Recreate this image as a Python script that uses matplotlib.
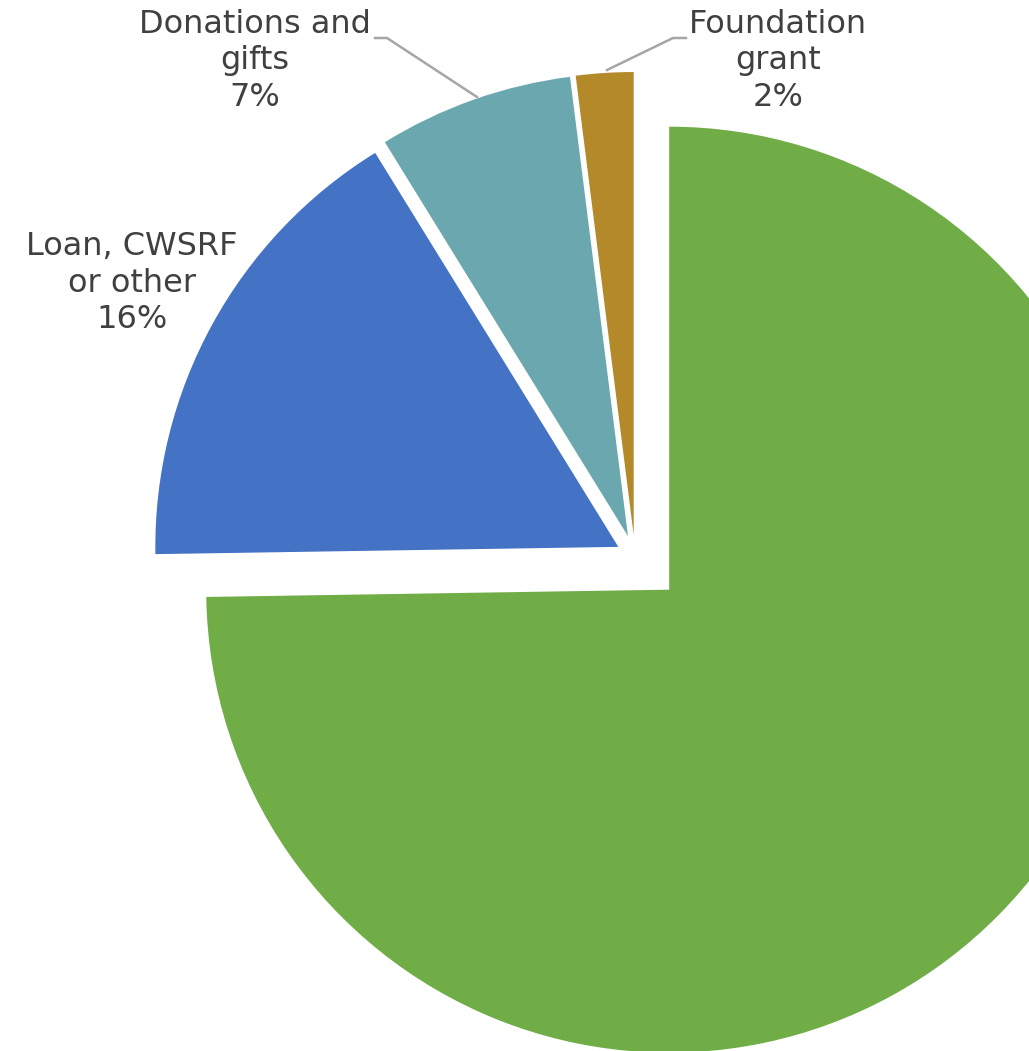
import matplotlib.pyplot as plt

# 데이터
categories = ['Grant', 'Loan, CWSRF\nor other', 'Donations and\ngifts', 'Foundation\ngrant']
shares = [74.75, 16.45, 6.8, 2.0]
colors = ['#70AD47', '#4472C4', '#6AA7AE', '#B3892A']

W, H = 1029, 1051
R = 463.0            # 파이 반지름(px)
CX, CY = 635.0, 556.0  # 파이 중심(px)
explode = [48 / R, 19 / R, 21 / R, 21 / R]


def px(x, y):
    # 픽셀 좌표 -> 데이터 좌표
    return (x - CX) / R, (CY - y) / R


fig = plt.figure(figsize=(W / 100, H / 100), dpi=100)
ax = fig.add_axes([0, 0, 1, 1])
ax.pie(shares, colors=colors, explode=explode, startangle=90,
       counterclock=False, radius=1.0, wedgeprops=dict(linewidth=0))
ax.set_aspect('equal')
ax.set_xlim(-CX / R, (W - CX) / R)
ax.set_ylim(-(H - CY) / R, CY / R)
ax.axis('off')

# 라벨 위치 (녹색 조각 라벨은 잘려서 안 보임)
label_pos = {1: (132, 283), 2: (255, 61), 3: (778, 61)}
for i, (x, y) in label_pos.items():
    txt = '%s\n%d%%' % (categories[i], round(shares[i]))
    ax.text(*px(x, y), txt, ha='center', va='center', fontsize=23,
            color='#404040', linespacing=1.22)

# 지시선
leaders = [[(375, 38), (387, 38), (477, 97)],
           [(686, 38), (673, 38), (607, 70)]]
for pts in leaders:
    xs, ys = zip(*[px(a, b) for a, b in pts])
    ax.plot(xs, ys, color='#A6A6A6', linewidth=1.8)

fig.savefig('out.png', dpi=100)
